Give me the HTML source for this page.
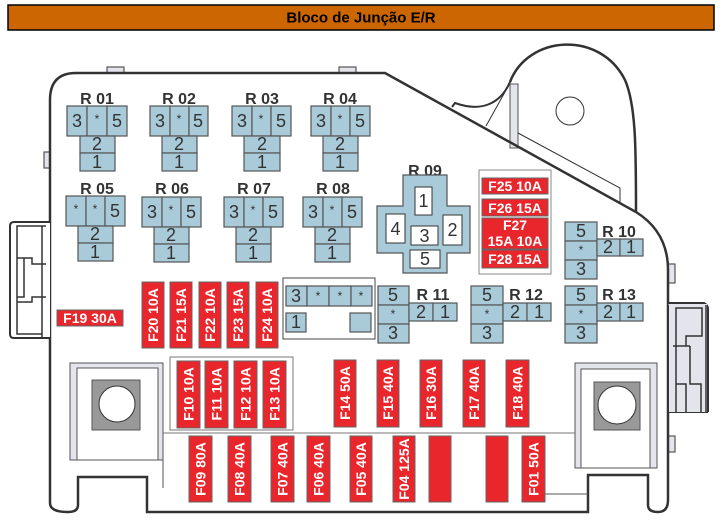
<!DOCTYPE html>
<html><head><meta charset="utf-8"><style>
html,body{margin:0;padding:0;background:#fff;}
svg{display:block;font-family:"Liberation Sans",Arial,sans-serif;}
.c{fill:#a9cbd9;stroke:#555;stroke-width:1.2}
.t{font-size:18px;fill:#333;text-anchor:middle;dominant-baseline:central}
.s{font-size:12px;fill:#333;text-anchor:middle;dominant-baseline:central}
.l{font-size:16px;font-weight:bold;fill:#333;text-anchor:middle}
.f{fill:#e8262b;stroke:#666;stroke-width:1}
.ft{font-size:14px;font-weight:bold;fill:#fff;text-anchor:middle;dominant-baseline:central}
.o{fill:none;stroke:#333;stroke-width:2.5}
.g{fill:#e4e4ec;stroke:#555;stroke-width:1.2}
</style></head><body>
<svg width="722" height="522" viewBox="0 0 722 522" xmlns="http://www.w3.org/2000/svg">
<rect x="8" y="5" width="706" height="25" fill="#cc6600" stroke="#000" stroke-width="1.5"/>
<text x="361" y="18" font-size="15" font-weight="bold" text-anchor="middle" dominant-baseline="central" fill="#000">Bloco de Junção E/R</text>

<!-- tabs -->
<rect x="107" y="67" width="17" height="6" class="g"/>
<rect x="339" y="67" width="17" height="6" class="g"/>
<rect x="44" y="152" width="6" height="16" class="g"/>
<rect x="668" y="264" width="7" height="19" class="g"/>
<rect x="668" y="436" width="7" height="16" class="g"/>

<!-- big arc -->
<path d="M510,82 C528,35 600,30 625,80 C636,105 636,150 636,212" class="o" fill="#fff"/>
<path d="M452,107 L455,103 C480,112 500,105 510,82" fill="none" stroke="#333" stroke-width="2"/>
<line x1="486" y1="126" x2="505" y2="92" stroke="#333" stroke-width="1"/>
<rect x="510" y="84" width="8" height="64" fill="#e4e4ec" stroke="#555" stroke-width="1"/>
<path d="M518,133 L620,188 L620,203" fill="none" stroke="#333" stroke-width="1"/>
<circle cx="570" cy="111" r="14" fill="#fff" stroke="#333" stroke-width="1"/>

<!-- outline -->
<path d="M50,503 L50,100 Q50,73 76,73 L385,73 L636,212 Q668,232 668,270 L668,500 Q668,512 658,512 Q648,512 648,505 L648,475 L588,475 L588,512 L147,512 L147,477 L78,477 L78,505 Q78,512 68,512 Q50,512 50,503 Z" class="o" fill="#fff"/>

<!-- left connector -->
<path d="M50,222 L14,222 Q10,222 10,226 L10,334 Q10,338 14,338 L50,338" fill="#fff" stroke="#333" stroke-width="2"/>
<path d="M46,226 L17,226 L17,258 L32,258 L32,264 L46,264 M17,258 L17,297 L24,297 L24,258 M17,297 L17,334 L42,334 M17,302 L32,302 L32,297 L46,297 M42,226 L42,338" fill="none" stroke="#333" stroke-width="1.5"/>
<!-- right connector -->
<path d="M668,303 L704,303 Q708,305 708,309 L708,412 M668,412 L708,412" fill="#e4e4ec" stroke="#333" stroke-width="2"/>
<rect x="669" y="304" width="38" height="108" fill="#e4e4ec"/>
<path d="M706,305 L706,412 M676,308 L702,308 L702,336 L686,336 L686,346 L676,346 Z M673,346 L690,346 M690,346 L690,384 L701,384 L701,412 M676,384 L686,384 L686,412 M676,308 L676,412" fill="none" stroke="#333" stroke-width="1.5"/>

<g id="relays">
<text x="97" y="104" class="l">R 01</text>
<rect x="67" y="106" width="20" height="30" class="c"/><rect x="87" y="106" width="20" height="30" class="c"/><rect x="107" y="106" width="20" height="30" class="c"/>
<text x="77" y="121" class="t">3</text><text x="97" y="119" class="s">*</text><text x="117" y="121" class="t">5</text>
<rect x="80" y="136" width="35" height="17" class="c"/><rect x="80" y="153" width="35" height="18" class="c"/>
<text x="97" y="144" class="t">2</text><text x="97" y="162" class="t">1</text>
<text x="179" y="104" class="l">R 02</text>
<rect x="150" y="106" width="20" height="30" class="c"/><rect x="170" y="106" width="19" height="30" class="c"/><rect x="189" y="106" width="19" height="30" class="c"/>
<text x="160" y="121" class="t">3</text><text x="179" y="119" class="s">*</text><text x="198" y="121" class="t">5</text>
<rect x="162" y="136" width="35" height="17" class="c"/><rect x="162" y="153" width="35" height="18" class="c"/>
<text x="179" y="144" class="t">2</text><text x="179" y="162" class="t">1</text>
<text x="262" y="104" class="l">R 03</text>
<rect x="232" y="106" width="20" height="30" class="c"/><rect x="252" y="106" width="19" height="30" class="c"/><rect x="271" y="106" width="20" height="30" class="c"/>
<text x="242" y="121" class="t">3</text><text x="261" y="119" class="s">*</text><text x="281" y="121" class="t">5</text>
<rect x="244" y="136" width="36" height="17" class="c"/><rect x="244" y="153" width="36" height="18" class="c"/>
<text x="262" y="144" class="t">2</text><text x="262" y="162" class="t">1</text>
<text x="340" y="104" class="l">R 04</text>
<rect x="311" y="106" width="20" height="30" class="c"/><rect x="331" y="106" width="19" height="30" class="c"/><rect x="350" y="106" width="20" height="30" class="c"/>
<text x="321" y="121" class="t">3</text><text x="340" y="119" class="s">*</text><text x="360" y="121" class="t">5</text>
<rect x="323" y="136" width="35" height="17" class="c"/><rect x="323" y="153" width="35" height="18" class="c"/>
<text x="340" y="144" class="t">2</text><text x="340" y="162" class="t">1</text>
<text x="97" y="194" class="l">R 05</text>
<rect x="66" y="196" width="20" height="30" class="c"/><rect x="86" y="196" width="19" height="30" class="c"/><rect x="105" y="196" width="20" height="30" class="c"/>
<text x="76" y="209" class="s">*</text><text x="95" y="209" class="s">*</text><text x="115" y="211" class="t">5</text>
<rect x="78" y="226" width="35" height="17" class="c"/><rect x="78" y="243" width="35" height="18" class="c"/>
<text x="95" y="234" class="t">2</text><text x="95" y="252" class="t">1</text>
<text x="172" y="194" class="l">R 06</text>
<rect x="142" y="197" width="20" height="30" class="c"/><rect x="162" y="197" width="19" height="30" class="c"/><rect x="181" y="197" width="20" height="30" class="c"/>
<text x="152" y="212" class="t">3</text><text x="171" y="210" class="s">*</text><text x="191" y="212" class="t">5</text>
<rect x="154" y="227" width="35" height="17" class="c"/><rect x="154" y="244" width="35" height="18" class="c"/>
<text x="171" y="235" class="t">2</text><text x="171" y="253" class="t">1</text>
<text x="254" y="194" class="l">R 07</text>
<rect x="224" y="197" width="20" height="30" class="c"/><rect x="244" y="197" width="19" height="30" class="c"/><rect x="263" y="197" width="20" height="30" class="c"/>
<text x="234" y="212" class="t">3</text><text x="253" y="210" class="s">*</text><text x="273" y="212" class="t">5</text>
<rect x="236" y="227" width="35" height="17" class="c"/><rect x="236" y="244" width="35" height="18" class="c"/>
<text x="253" y="235" class="t">2</text><text x="253" y="253" class="t">1</text>
<text x="333" y="194" class="l">R 08</text>
<rect x="303" y="197" width="20" height="30" class="c"/><rect x="323" y="197" width="19" height="30" class="c"/><rect x="342" y="197" width="20" height="30" class="c"/>
<text x="313" y="212" class="t">3</text><text x="332" y="210" class="s">*</text><text x="352" y="212" class="t">5</text>
<rect x="315" y="227" width="35" height="17" class="c"/><rect x="315" y="244" width="35" height="18" class="c"/>
<text x="332" y="235" class="t">2</text><text x="332" y="253" class="t">1</text>
</g>

<text x="425" y="176" class="l">R 09</text>
<path d="M403,175 L447,175 L447,206 L470,206 L470,253 L447,253 L447,273 L403,273 L403,253 L377,253 L377,206 L403,206 Z" class="c"/>
<rect x="415" y="187" width="17" height="28" fill="#fff" stroke="#333"/><text x="423.5" y="201" class="t">1</text>
<rect x="386" y="214" width="19" height="29" fill="#fff" stroke="#333"/><text x="395.5" y="229" class="t">4</text>
<rect x="411" y="226" width="27" height="19" fill="#fff" stroke="#333"/><text x="424.5" y="236" class="t">3</text>
<rect x="443" y="215" width="19" height="30" fill="#fff" stroke="#333"/><text x="452.5" y="230" class="t">2</text>
<rect x="410" y="250" width="30" height="18" fill="#fff" stroke="#333"/><text x="425" y="259" class="t">5</text>

<rect x="479" y="170" width="72" height="104" fill="#fff" stroke="#888"/>
<rect x="482" y="178" width="66" height="16" class="f"/><text x="515" y="186" class="ft">F25 10A</text>
<rect x="482" y="199" width="66" height="17" class="f"/><text x="515" y="208" class="ft">F26 15A</text>
<rect x="482" y="218" width="66" height="31" class="f"/><text x="515" y="225" class="ft" font-size="11">F27</text><text x="515" y="241" class="ft" font-size="11">15A 10A</text>
<rect x="482" y="250" width="66" height="18" class="f"/><text x="515" y="259" class="ft">F28 15A</text>

<g>
<text x="619" y="237" class="l">R 10</text>
<rect x="565" y="222" width="32" height="19" class="c"/><rect x="565" y="241" width="32" height="19" class="c"/><rect x="565" y="260" width="32" height="19" class="c"/>
<text x="581" y="231" class="t">5</text><text x="581" y="250" class="s">*</text><text x="581" y="269" class="t">3</text>
<rect x="597" y="239" width="23" height="17" class="c"/><rect x="620" y="239" width="23" height="17" class="c"/>
<text x="608" y="247" class="t">2</text><text x="631" y="247" class="t">1</text>
<text x="433" y="300" class="l">R 11</text>
<rect x="378" y="286" width="31" height="19" class="c"/><rect x="378" y="305" width="31" height="19" class="c"/><rect x="378" y="324" width="31" height="19" class="c"/>
<text x="393" y="295" class="t">5</text><text x="393" y="314" class="s">*</text><text x="393" y="333" class="t">3</text>
<rect x="409" y="303" width="24" height="18" class="c"/><rect x="433" y="303" width="24" height="18" class="c"/>
<text x="421" y="312" class="t">2</text><text x="445" y="312" class="t">1</text>
<text x="526" y="300" class="l">R 12</text>
<rect x="471" y="286" width="32" height="19" class="c"/><rect x="471" y="305" width="32" height="19" class="c"/><rect x="471" y="324" width="32" height="19" class="c"/>
<text x="487" y="295" class="t">5</text><text x="487" y="314" class="s">*</text><text x="487" y="333" class="t">3</text>
<rect x="503" y="303" width="24" height="18" class="c"/><rect x="527" y="303" width="24" height="18" class="c"/>
<text x="515" y="312" class="t">2</text><text x="539" y="312" class="t">1</text>
<text x="619" y="300" class="l">R 13</text>
<rect x="565" y="286" width="32" height="19" class="c"/><rect x="565" y="305" width="32" height="19" class="c"/><rect x="565" y="324" width="32" height="19" class="c"/>
<text x="581" y="295" class="t">5</text><text x="581" y="314" class="s">*</text><text x="581" y="333" class="t">3</text>
<rect x="597" y="303" width="23" height="18" class="c"/><rect x="620" y="303" width="23" height="18" class="c"/>
<text x="608" y="312" class="t">2</text><text x="631" y="312" class="t">1</text>
</g>

<rect x="283" y="278" width="92" height="61" fill="#fff" stroke="#444"/>
<rect x="286" y="286" width="21" height="20" class="c"/><rect x="307" y="286" width="22" height="20" class="c"/><rect x="329" y="286" width="22" height="20" class="c"/><rect x="351" y="286" width="21" height="20" class="c"/>
<text x="296" y="296" class="t">3</text><text x="318" y="296" class="s">*</text><text x="340" y="296" class="s">*</text><text x="361" y="296" class="s">*</text>
<rect x="286" y="313" width="20" height="19" class="c"/><text x="296" y="322" class="t">1</text>
<rect x="350" y="313" width="21" height="19" class="c"/>

<rect x="57" y="310" width="66" height="16" class="f"/><text x="90" y="318" class="ft">F19 30A</text>

<g>
<rect x="142" y="282" width="22" height="66" class="f"/><text transform="translate(153,315) rotate(-90)" class="ft">F20 10A</text>
<rect x="170" y="282" width="22" height="66" class="f"/><text transform="translate(181,315) rotate(-90)" class="ft">F21 15A</text>
<rect x="199" y="282" width="22" height="66" class="f"/><text transform="translate(210,315) rotate(-90)" class="ft">F22 10A</text>
<rect x="227" y="282" width="22" height="66" class="f"/><text transform="translate(238,315) rotate(-90)" class="ft">F23 15A</text>
<rect x="256" y="282" width="22" height="66" class="f"/><text transform="translate(267,315) rotate(-90)" class="ft">F24 10A</text>
</g>

<rect x="70" y="363" width="93" height="97" fill="#e4e4ec" stroke="#555"/>
<rect x="77" y="368" width="81" height="92" fill="#fff" stroke="#555"/>
<line x1="163" y1="460" x2="163" y2="488" stroke="#555"/>
<rect x="92" y="380" width="48" height="50" fill="#999" stroke="#555"/>
<circle cx="117" cy="404" r="18" fill="#fff" stroke="#333"/>
<rect x="575" y="363" width="82" height="105" fill="#e4e4ec" stroke="#555"/>
<rect x="581" y="369" width="69" height="99" fill="#fff" stroke="#555"/>
<rect x="594" y="382" width="46" height="48" fill="#999" stroke="#555"/>
<circle cx="617" cy="405" r="19" fill="#fff" stroke="#333"/>
<line x1="163" y1="433" x2="575" y2="433" stroke="#777"/>
<path d="M545,494 L588,494" stroke="#555" fill="none"/>

<rect x="170" y="357" width="123" height="73" fill="#fff" stroke="#777"/>
<rect x="177" y="361" width="23" height="67" class="f"/><text transform="translate(188.5,394) rotate(-90)" class="ft">F10 10A</text>
<rect x="205" y="361" width="23" height="67" class="f"/><text transform="translate(216.5,394) rotate(-90)" class="ft">F11 10A</text>
<rect x="234" y="361" width="23" height="67" class="f"/><text transform="translate(245.5,394) rotate(-90)" class="ft">F12 10A</text>
<rect x="263" y="361" width="23" height="67" class="f"/><text transform="translate(274.5,394) rotate(-90)" class="ft">F13 10A</text>

<rect x="334" y="360" width="22" height="67" class="f"/><text transform="translate(345,393) rotate(-90)" class="ft">F14 50A</text>
<rect x="377" y="360" width="22" height="67" class="f"/><text transform="translate(388,393) rotate(-90)" class="ft">F15 40A</text>
<rect x="420" y="360" width="22" height="67" class="f"/><text transform="translate(431,393) rotate(-90)" class="ft">F16 30A</text>
<rect x="463" y="360" width="22" height="67" class="f"/><text transform="translate(474,393) rotate(-90)" class="ft">F17 40A</text>
<rect x="506" y="360" width="23" height="67" class="f"/><text transform="translate(517.5,393) rotate(-90)" class="ft">F18 40A</text>

<rect x="189" y="436" width="23" height="66" class="f"/><text transform="translate(200.5,469) rotate(-90)" class="ft">F09 80A</text>
<rect x="228" y="436" width="23" height="66" class="f"/><text transform="translate(239.5,469) rotate(-90)" class="ft">F08 40A</text>
<rect x="271" y="436" width="23" height="66" class="f"/><text transform="translate(282.5,469) rotate(-90)" class="ft">F07 40A</text>
<rect x="307" y="436" width="23" height="66" class="f"/><text transform="translate(318.5,469) rotate(-90)" class="ft">F06 40A</text>
<rect x="350" y="436" width="22" height="66" class="f"/><text transform="translate(361,469) rotate(-90)" class="ft">F05 40A</text>
<rect x="393" y="436" width="22" height="66" class="f"/><text transform="translate(404,469) rotate(-90)" class="ft" font-size="13">F04 125A</text>
<rect x="429" y="436" width="22" height="66" class="f"/>
<rect x="486" y="436" width="22" height="66" class="f"/>
<rect x="522" y="436" width="23" height="66" class="f"/><text transform="translate(533.5,469) rotate(-90)" class="ft">F01 50A</text>
</svg>
</body></html>
